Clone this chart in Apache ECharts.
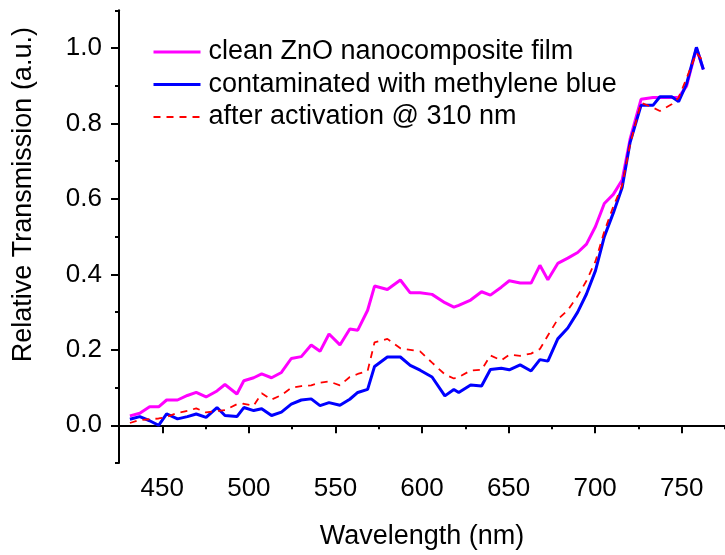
<!DOCTYPE html>
<html>
<head>
<meta charset="utf-8">
<script src="https://cdn.jsdelivr.net/npm/echarts@6/dist/echarts.min.js"></script>
<style>
  html, body { margin: 0; padding: 0; background: #fff; }
  #chart { width: 725px; height: 555px; }
</style>
</head>
<body>
<div id="chart"></div>
<script>
// Wavelengths (nm) shared by the three spectra
const wavelengths = [431.3, 437.0, 442.7, 447.9, 452.5, 458.8, 464.5, 469.6, 475.3, 481.6,
  486.2, 493.1, 497.1, 502.8, 507.4, 513.1, 518.8, 524.5, 530.3, 536.0,
  541.1, 546.3, 552.6, 558.3, 562.9, 568.6, 572.6, 580.0, 587.5, 593.2,
  598.9, 605.8, 613.2, 618.4, 621.2, 628.1, 634.4, 639.5, 645.8, 650.4,
  656.7, 663.0, 668.1, 672.7, 678.4, 684.2, 689.9, 695.0, 700.2, 705.3,
  710.5, 715.6, 720.2, 726.5, 733.4, 737.4, 744.2, 748.2, 752.8, 758.5, 762.5];

// clean ZnO nanocomposite film
const cleanFilm = [0.025, 0.032, 0.049, 0.049, 0.067, 0.067, 0.079, 0.087, 0.075, 0.091,
  0.108, 0.083, 0.118, 0.126, 0.136, 0.126, 0.140, 0.177, 0.182, 0.213,
  0.196, 0.242, 0.213, 0.255, 0.252, 0.305, 0.369, 0.360, 0.385, 0.351,
  0.351, 0.347, 0.325, 0.313, 0.318, 0.332, 0.354, 0.345, 0.366, 0.383,
  0.377, 0.377, 0.424, 0.386, 0.429, 0.443, 0.458, 0.480, 0.527, 0.588,
  0.612, 0.650, 0.759, 0.864, 0.869, 0.869, 0.869, 0.869, 0.899, 1.000, 0.943];

// contaminated with methylene blue
const contaminated = [0.016, 0.023, 0.012, 0.000, 0.030, 0.017, 0.023, 0.030, 0.021, 0.047,
  0.026, 0.023, 0.047, 0.039, 0.044, 0.026, 0.035, 0.056, 0.067, 0.070,
  0.052, 0.060, 0.053, 0.069, 0.087, 0.095, 0.156, 0.181, 0.181, 0.159,
  0.146, 0.128, 0.078, 0.095, 0.087, 0.107, 0.104, 0.148, 0.151, 0.147,
  0.160, 0.144, 0.174, 0.170, 0.229, 0.258, 0.300, 0.348, 0.410, 0.500,
  0.563, 0.630, 0.750, 0.848, 0.848, 0.871, 0.871, 0.858, 0.905, 1.002, 0.943];

// after activation @ 310 nm
const activated = [0.006, 0.014, 0.016, 0.018, 0.022, 0.033, 0.038, 0.045, 0.034, 0.038,
  0.040, 0.056, 0.057, 0.052, 0.085, 0.068, 0.080, 0.099, 0.104, 0.106,
  0.113, 0.116, 0.106, 0.128, 0.136, 0.144, 0.220, 0.229, 0.204, 0.200,
  0.196, 0.166, 0.135, 0.124, 0.128, 0.145, 0.147, 0.185, 0.172, 0.187,
  0.184, 0.190, 0.202, 0.238, 0.281, 0.305, 0.343, 0.383, 0.435, 0.514,
  0.580, 0.636, 0.745, 0.855, 0.842, 0.833, 0.851, 0.868, 0.920, 0.987, 0.965];

const seriesNames = ['clean ZnO nanocomposite film', 'contaminated with methylene blue', 'after activation @ 310 nm'];
const xTickLabels = [450, 500, 550, 600, 650, 700, 750];
const yTickLabels = [0, 0.2, 0.4, 0.6, 0.8, 1.0];

const FONT = 'Liberation Sans, Arial, sans-serif';
const pairs = vals => wavelengths.map((w, i) => [w, vals[i]]);

const chart = echarts.init(document.getElementById('chart'), null, { renderer: 'canvas' });

const axisLineStyle = { lineStyle: { color: '#000', width: 2 } };

chart.setOption({
  animation: false,
  backgroundColor: '#fff',
  textStyle: { fontFamily: FONT },
  grid: { left: 119, top: 10.3, width: 612, height: 456.4, containLabel: false },
  legend: {
    orient: 'vertical',
    left: 152,
    top: 37,
    padding: 0,
    itemWidth: 47,
    itemHeight: 14,
    itemGap: 2.5,
    // plain line keys, no point markers
    itemStyle: { opacity: 0 },
    textStyle: { fontSize: 27, color: '#000', fontFamily: FONT, lineHeight: 30, padding: [0, 0, 0, 3] },
    data: [
      { name: seriesNames[0], lineStyle: { width: 3 } },
      { name: seriesNames[1], lineStyle: { width: 3 } },
      { name: seriesNames[2], lineStyle: { width: 1.8 } }
    ]
  },
  xAxis: [
    {
      type: 'value', min: 425, max: 775, interval: 25,
      position: 'bottom',
      axisLine: axisLineStyle,
      axisTick: { length: 4, lineStyle: { color: '#000', width: 2 } },
      axisLabel: { show: false },
      splitLine: { show: false }
    },
    {
      type: 'value', min: 425, max: 775,
      position: 'bottom',
      axisLine: { show: false },
      axisTick: { length: 8, customValues: xTickLabels, lineStyle: { color: '#000', width: 2 } },
      axisLabel: { customValues: xTickLabels, fontSize: 26, color: '#000', fontFamily: FONT, margin: 13 },
      splitLine: { show: false },
      name: 'Wavelength (nm)',
      nameLocation: 'middle',
      nameGap: 60,
      nameTextStyle: { fontSize: 27, color: '#000', fontFamily: FONT }
    }
  ],
  yAxis: [
    {
      type: 'value', min: -0.1, max: 1.1, interval: 0.1,
      position: 'left',
      axisLine: axisLineStyle,
      axisTick: { length: 4, lineStyle: { color: '#000', width: 2 } },
      axisLabel: { show: false },
      splitLine: { show: false }
    },
    {
      type: 'value', min: -0.1, max: 1.1,
      position: 'left',
      axisLine: { show: false },
      axisTick: { length: 8, customValues: yTickLabels, lineStyle: { color: '#000', width: 2 } },
      axisLabel: {
        customValues: yTickLabels, fontSize: 26, color: '#000', fontFamily: FONT, margin: 17,
        formatter: v => Number(v).toFixed(1)
      },
      splitLine: { show: false },
      name: 'Relative Transmission (a.u.)',
      nameLocation: 'middle',
      nameGap: 82,
      nameTextStyle: { fontSize: 27, color: '#000', fontFamily: FONT, padding: [0, 0, 0, 84] }
    }
  ],
  series: [
    {
      name: seriesNames[0], type: 'line', xAxisIndex: 0, yAxisIndex: 0,
      symbol: 'none', color: '#ff00ff',
      lineStyle: { width: 3, color: '#ff00ff' },
      data: pairs(cleanFilm)
    },
    {
      name: seriesNames[1], type: 'line', xAxisIndex: 0, yAxisIndex: 0,
      symbol: 'none', color: '#0000ff',
      lineStyle: { width: 3, color: '#0000ff' },
      data: pairs(contaminated)
    },
    {
      name: seriesNames[2], type: 'line', xAxisIndex: 0, yAxisIndex: 0,
      symbol: 'none', color: '#ff0000',
      lineStyle: { width: 1.8, color: '#ff0000', type: [7, 6] },
      data: pairs(activated)
    }
  ]
});
</script>
</body>
</html>
